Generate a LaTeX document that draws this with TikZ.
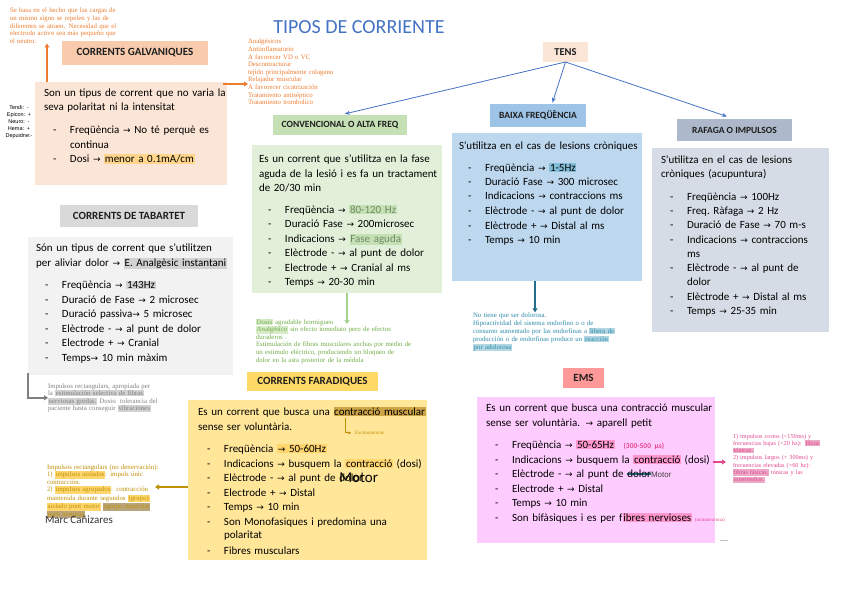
\documentclass[tikz,border=0pt]{standalone}
\usepackage{fontspec}
\setmainfont{Carlito}
\newfontfamily\notefont{Liberation Serif}
\newfontfamily\labelfont{Liberation Sans}
\newfontfamily\arrowfont{DejaVu Sans}
\usetikzlibrary{arrows.meta, positioning, calc}
\definecolor{titleblue}{RGB}{68,114,196}
\definecolor{headtext}{RGB}{30,30,30}
\definecolor{galvhead}{RGB}{248,203,173}
\definecolor{galvfill}{RGB}{251,229,214}
\definecolor{convhead}{RGB}{197,224,180}
\definecolor{convfill}{RGB}{226,240,217}
\definecolor{baixahead}{RGB}{157,195,230}
\definecolor{baixafill}{RGB}{189,215,238}
\definecolor{rafhead}{RGB}{173,185,202}
\definecolor{raffill}{RGB}{214,220,229}
\definecolor{tabhead}{RGB}{217,217,217}
\definecolor{tabfill}{RGB}{242,242,242}
\definecolor{farhead}{RGB}{255,217,102}
\definecolor{farfill}{RGB}{255,230,153}
\definecolor{emshead}{RGB}{255,153,153}
\definecolor{emsfill}{RGB}{255,204,255}
\definecolor{noteorange}{RGB}{237,125,49}
\definecolor{notegreen}{RGB}{112,173,71}
\definecolor{arrowgreen}{RGB}{169,209,142}
\definecolor{noteteal}{RGB}{46,139,170}
\definecolor{arrowteal}{RGB}{36,110,140}
\definecolor{notegray}{RGB}{128,128,128}
\definecolor{notegold}{RGB}{191,144,0}
\definecolor{notepink}{RGB}{226,72,140}
\definecolor{hlorange}{RGB}{255,214,140}
\definecolor{hlgreen}{RGB}{197,224,180}
\definecolor{hlgreentext}{RGB}{110,140,100}
\definecolor{hlblue}{RGB}{130,190,215}
\definecolor{hlgray}{RGB}{210,210,210}
\definecolor{hlgold}{RGB}{255,214,110}
\definecolor{hlgolddark}{RGB}{205,165,70}
\definecolor{hltan}{RGB}{185,165,125}
\definecolor{hlpink}{RGB}{255,150,205}
\definecolor{hlteal}{RGB}{180,215,228}
\definecolor{hlpinknote}{RGB}{235,170,200}
\definecolor{hlnotegreen}{RGB}{215,235,200}

% highlighted words and list lines
\newcommand{\hl}[2]{{\setlength{\fboxsep}{0.7pt}\colorbox{#1}{#2}}}
\newcommand{\li}[1]{\makebox[26pt][l]{\hspace{9pt}-}#1}
\newcommand{\lc}[1]{\hspace*{26pt}#1}
\newcommand{\ra}{{\arrowfont\fontsize{9}{9}\selectfont →}}
\newcommand{\tealstrike}[1]{\setbox0\hbox{#1}\rlap{\textcolor{arrowteal}{\rule[2.8pt]{\wd0}{1.6pt}}}\box0}

\begin{document}
\begin{tikzpicture}[x=1pt,y=-1pt,
  every node/.style={inner sep=0pt, outer sep=0pt},
  head/.style={anchor=north west, text=headtext, font=\bfseries\fontsize{11}{13}\selectfont},
  smallhead/.style={head, font=\bfseries\fontsize{9.5}{11}\selectfont},
  area/.style={anchor=north west},
  body/.style={anchor=base west, text width=270pt, align=left, font=\fontsize{11}{14.5}\selectfont},
  note/.style={anchor=base west, text width=200pt, align=left, font=\notefont\fontsize{6.8}{7.6}\selectfont},
  link/.style={-{Stealth[length=5pt,width=4pt]}, line width=0.8pt, titleblue},
  thickarrow/.style={-{Triangle[length=4pt,width=5pt]}, line width=1.8pt}]

\useasboundingbox[fill=white] (0,0) rectangle (848,599);

% title
\node[font=\fontsize{20}{24}\selectfont, text=titleblue] (title) at (359,27) {TIPOS DE CORRIENTE};

% headers
\node[head, fill=galvhead, minimum width=146pt, minimum height=24pt] (galvh) at (62,41) {CORRENTS GALVANIQUES};
\node[head, fill=galvfill, minimum width=45pt, minimum height=20pt, font=\bfseries\fontsize{10.5}{12}\selectfont] (tens) at (543,42) {TENS};
\node[smallhead, fill=convhead, minimum width=134pt, minimum height=20pt] (convh) at (273,115) {CONVENCIONAL O ALTA FREQ};
\node[smallhead, fill=baixahead, minimum width=96pt, minimum height=23pt] (baixah) at (490,104) {BAIXA FREQÜÈNCIA};
\node[smallhead, fill=rafhead, minimum width=115pt, minimum height=22pt] (rafh) at (677,119) {RAFAGA O IMPULSOS};
\node[head, fill=tabhead, minimum width=138pt, minimum height=22pt] (tabh) at (60,205) {CORRENTS DE TABARTET};
\node[head, fill=farhead, minimum width=131pt, minimum height=19pt] (farh) at (247,372) {CORRENTS FARADIQUES};
\node[head, fill=emshead, minimum width=41pt, minimum height=20pt] (emsh) at (563,368) {EMS};

% content boxes
\node[area, fill=galvfill, minimum width=192pt, minimum height=103pt] (galvbox) at (35,82) {};
\node[area, fill=convfill, minimum width=190pt, minimum height=148pt] (convbox) at (252,145) {};
\node[area, fill=baixafill, minimum width=190pt, minimum height=148pt] (baixabox) at (452,133) {};
\node[area, fill=raffill, minimum width=177pt, minimum height=184pt] (rafbox) at (652,148) {};
\node[area, fill=tabfill, minimum width=205pt, minimum height=138pt] (tabbox) at (28,237) {};
\node[area, fill=farfill, minimum width=239pt, minimum height=160pt] (farbox) at (188,400) {};
\node[area, fill=emsfill, minimum width=238pt, minimum height=146pt] (emsbox) at (477,397) {};

% texts of the boxes
\node[body] (galvtxt) at (44,96.5) {Son un tipus de corrent que no varia la\\
seva polaritat ni la intensitat\\[8pt]
\li{Freqüència \ra{} No té perquè es}\\
\lc{continua}\\
\li{Dosi \ra{} \hl{hlorange}{menor a 0.1mA/cm}}};

\node[body] (convtxt) at (259,162.5) {Es un corrent que s’utilitza en la fase\\
aguda de la lesió i es fa un tractament\\
de 20/30 min\\[7pt]
\li{Freqüència \ra{} \hl{hlgreen}{\textcolor{hlgreentext}{80-120 Hz}}}\\
\li{Duració Fase \ra{} 200microsec}\\
\li{Indicacions \ra{} \hl{hlgreen}{\textcolor{hlgreentext}{Fase aguda}}}\\
\li{Elèctrode - \ra{} al punt de dolor}\\
\li{Electrode + \ra{} Cranial al ms}\\
\li{Temps \ra{} 20-30 min}};

\node[body] (baixatxt) at (459,149.5) {S’utilitza en el cas de lesions cròniques\\[7pt]
\li{Freqüència \ra{} \hl{hlblue}{1-5Hz}}\\
\li{Duració Fase \ra{} 300 microsec}\\
\li{Indicacions \ra{} contraccions ms}\\
\li{Elèctrode - \ra{} al punt de dolor}\\
\li{Elèctrode + \ra{} Distal al ms}\\
\li{Temps \ra{} 10 min}};

\node[body, font=\fontsize{11}{14.3}\selectfont] (raftxt) at (661,163.5) {S’utilitza en el cas de lesions\\
cròniques (acupuntura)\\[8pt]
\li{Freqüència \ra{} 100Hz}\\
\li{Freq.\ Ràfaga \ra{} 2 Hz}\\
\li{Duració de Fase \ra{} 70 m-s}\\
\li{Indicacions \ra{} contraccions}\\
\lc{ms}\\
\li{Elèctrode - \ra{} al punt de}\\
\lc{dolor}\\
\li{Elèctrode + \ra{} Distal al ms}\\
\li{Temps \ra{} 25-35 min}};

\node[body] (tabtxt) at (36,251.5) {Són un tipus de corrent que s’utilitzen\\
per aliviar dolor \ra{} \hl{hlgray}{E.\ Analgèsic instantani}\\[8pt]
\li{Freqüència \ra{} \hl{hlgray}{143Hz}}\\
\li{Duració de Fase \ra{} 2 microsec}\\
\li{Duració passiva\ra{} 5 microsec}\\
\li{Elèctrode - \ra{} al punt de dolor}\\
\li{Electrode + \ra{} Cranial}\\
\li{Temps\ra{} 10 min màxim}};

\node[body] (fartxt) at (198,415.5) {Es un corrent que busca una \hl{hlgolddark}{contracció muscular}\\
sense ser voluntària.\\[8pt]
\li{Freqüència \hl{hlgold}{\ra{} 50-60Hz}}\\
\li{Indicacions \ra{} busquem la \hl{hlgold}{contracció} (dosi)}\\
\li{Elèctrode - \ra{} al punt de \rlap{dolor}\raisebox{-1pt}{\fontsize{15}{15}\selectfont Motor}}\\
\li{Electrode + \ra{} Distal}\\
\li{Temps \ra{} 10 min}\\
\li{Son Monofasiques i predomina una}\\[-1.5pt]
\lc{polaritat}\\[1.5pt]
\li{Fibres musculars}};

\node[body] (emstxt) at (486,411.5) {Es un corrent que busca una contracció muscular\\
sense ser voluntària. \ra{} aparell petit\\[8pt]
\li{Freqüència \ra{} \hl{hlpink}{50-65Hz}\hspace{9pt}{\fontsize{7.5}{8}\selectfont\bfseries\textcolor{notepink}{(300-500 µs)}}}\\
\li{Indicacions \ra{} busquem la \hl{hlpink}{contracció} (dosi)}\\
\li{Elèctrode - \ra{} al punt de \tealstrike{dolor} {\labelfont\fontsize{8}{9}\selectfont\textcolor{black!75}{Motor}}}\\
\li{Electrode + \ra{} Distal}\\
\li{Temps \ra{} 10 min}\\
\li{Son bifàsiques i es per f\hl{hlpink}{ibres nervioses}\hspace{3pt}{\notefont\fontsize{5}{6}\selectfont\textcolor{notepink}{(motoneurona)}}}};

% notes
\node[note, text=noteorange] (galvnote) at (10,13) {Se basa en el hecho que las cargas de\\
un mismo signo se repelen y las de\\
diferentes se atraen. Necesidad que el\\
electrodo activo sea más pequeño que\\
el neutro.};

\node[note, text=noteorange, font=\notefont\fontsize{6.8}{7.6}\selectfont] (efectes) at (248,44) {Analgésicos\\
Antiinflamatorio\\
A favorecer VD o VC\\
Descontracturar\\
tejido principalmente colageno\\
Relajador muscular\\
A favorecer cicatrización\\
Tratamiento antiséptico\\
Tratamiento trombolico};

\node[anchor=base, text width=40pt, align=center, font=\labelfont\fontsize{5.5}{7}\selectfont] (polaritats) at (19,110) {Tendi: -\\
Epicon: +\\
Neuro: -\\
Hema: +\\
Depuidne:-};

\node[note, text=notegreen] (convnote) at (256,324) {\hl{hlnotegreen}{Dosis} agradable hormigueo\\
\hl{hlnotegreen}{Analgésico} sin efecto inmediato pero de efectos\\
duraderos .\\
Estimulación de fibras musculares anchas por medio de\\
un estimulo eléctrico, produciendo un bloqueo de\\
dolor en la asta posterior de la médula};

\node[note, text=noteteal, font=\notefont\fontsize{6.8}{8}\selectfont] (baixanote) at (473,317) {No tiene que ser dolorosa.\\
Hipoactividad del sistema endorfino o o de\\
consumo aumentado por las endorfinas a \hl{hlteal}{libera de}\\
producción o de endorfinas produce un \hl{hlteal}{reacción}\\
\hl{hlteal}{por adolorosa}};

\node[note, text=notegray] (tabnote) at (48,388) {Impulsos rectangulars, apropiada per\\
la \hl{hlgray}{estimulación selectiva de fibras}\\
\hl{hlgray}{nerviosas gordas.} Dosis: tolerancia del\\
paciente hasta conseguir \hl{hlgray}{vibraciones}};

\node[note, text=notegold, font=\notefont\fontsize{6.8}{7.5}\selectfont] (farnote) at (47,469) {Impulsos rectangulars (no denervación):\\
1) \hl{hlgold}{impulsos aislados}: impuls únic\\
contracción.\\
2) \hl{hlgold}{impulsos agrupados}: contracción\\
mantenida durante segundos \hl{hlgold}{(grupo)}\\
\hl{hlgold}{aislado punt motor} \hl{hltan}{agrupo muscular}\\
\hl{hltan}{parti motoras}};

\node[anchor=base west, font=\fontsize{11}{13}\selectfont, text=black!80] (autor) at (45,523) {Marc Cañizares};

\node[anchor=base west, font=\notefont\fontsize{5}{6}\selectfont, text=notegold] (excito) at (355,434.5) {Excitomotoras};

\node[note, text=notepink, font=\notefont\fontsize{6.2}{7.3}\selectfont] (emsnote) at (733,438) {1) impulsos cortos (<150ms) y\\
frecuencias bajas (<20 hz): \hl{hlpinknote}{fibras}\\
\hl{hlpinknote}{tónicas.}\\
2) impulsos largos (+ 300ms) y\\
frecuencias elevadas (+60 hz):\\
\hl{hlpinknote}{fibras fásicas,} tónicas y las\\
\hl{hlpinknote}{intermedias.}};

% connectors
\draw[link, shorten >=5pt] (tens.south) -- (convh.north);
\draw[link, shorten >=1.5pt] (tens.south) -- ([xshift=14pt]baixah.north);
\draw[link, shorten >=8pt] (tens.south) -- (rafh.north);

\draw[thickarrow, noteorange, line width=1.4pt] ([xshift=12pt]galvbox.north west) -- ([xshift=12pt]galvbox.north west |- galvnote.south);
\draw[thickarrow, noteorange, line width=1.4pt] ([xshift=-4pt,yshift=-2pt]galvbox.north east) coordinate (ostart) -- (ostart -| efectes.west);
\draw[thickarrow, arrowgreen] (convbox.south) -- (convbox.south |- convnote.base);
\draw[thickarrow, arrowteal] ([xshift=-12pt]baixabox.south) -- ([xshift=-12pt]baixabox.south |- baixanote.north);
\draw[thickarrow, notegray] ([yshift=2pt]tabbox.south west) |- (tabnote.west);
\coordinate (goldtip) at (155,487);
\draw[thickarrow, notegold] ([yshift=-7pt]farbox.west) -- (goldtip);
\coordinate (excstart) at (345,418);
\draw[-{Triangle[length=2.5pt,width=3pt]}, notegold, line width=1pt, shorten >=4pt] (excstart) |- (excito.west);
\draw[thickarrow, notepink, shorten >=5pt] ([xshift=-2pt,yshift=8pt]emsbox.east) -- ([xshift=-2pt,yshift=8pt]emsbox.east -| emsnote.west);
\draw[black!25, line width=1pt] (720,540) -- (728,540);
\end{tikzpicture}
\end{document}
